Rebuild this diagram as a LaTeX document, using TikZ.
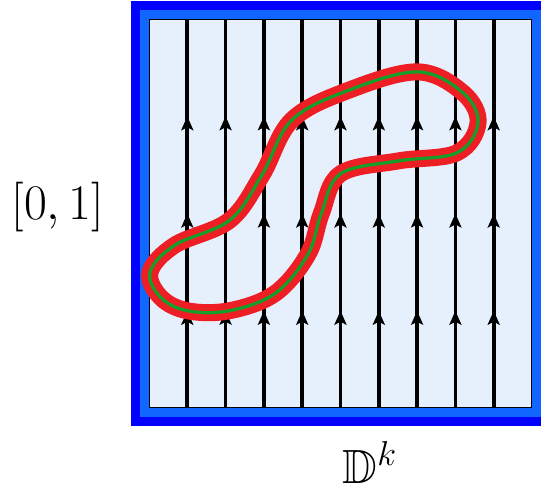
\documentclass[tikz,border=0pt]{standalone}
\usepackage{amssymb, amsmath}
\usepackage{tikz}
\usetikzlibrary{decorations.markings, arrows.meta}
\definecolor{deep}{RGB}{0, 0, 255}
\definecolor{light}{RGB}{17, 102, 255}
\definecolor{pale}{RGB}{230, 240, 252}
\definecolor{loopred}{RGB}{237, 30, 36}
\definecolor{loopgreen}{RGB}{20, 160, 40}

\begin{document}
\begin{tikzpicture}[
   x=19.15pt, y=19.45pt,
   flowline/.style={draw=black, line width=1.8, postaction={decorate},
                    decoration={markings,
                      mark=at position 0.25 with {\arrow{Stealth[length=7pt, width=6pt, inset=1.5pt]}},
                      mark=at position 0.5 with {\arrow{Stealth[length=7pt, width=6pt, inset=1.5pt]}},
                      mark=at position 0.75 with {\arrow{Stealth[length=7pt, width=6pt, inset=1.5pt]}}}},
   outerband/.style={draw=deep, line width=4.5},
   innerband/.style={draw=light, line width=4.5},
   loopout/.style={draw=loopred, line width=8.5, line join=round},
   loopin/.style={draw=loopgreen, line width=1.6, line join=round},
   axislabel/.style={font=\fontsize{24}{29}\selectfont}
  ]

  % Line Spacing
  \pgfmathsetmacro{\d}{1}

  \useasboundingbox (-3.89 * \d, -2.391 * \d) rectangle (10.235 * \d, 10.488 * \d);

  \fill[pale] (0, 0) rectangle (10 * \d, 10 * \d);

  \foreach \i in {1, ..., 9} {
    \draw[flowline] (\i * \d, 0) -- (\i * \d, 10 * \d);
  }

  \draw[black, line width=0.8] (0, 0) rectangle (10 * \d, 10 * \d);
  \draw[innerband] (-0.118 * \d, -0.118 * \d) rectangle (10.118 * \d, 10.118 * \d);
  \draw[outerband] (-0.355 * \d, -0.355 * \d) rectangle (10.355 * \d, 10.355 * \d);

  % the closed loop
  \def\looppoints{
    (0.03, 3.5) (0.68, 4.19) (2.11, 4.83) (2.95, 5.99) (3.73, 7.4) (5.22, 8.17)
    (7.02, 8.64) (8.2, 8.1) (8.59, 7.33) (8.04, 6.56) (6.5, 6.35) (5.0, 6.02)
    (4.5, 5.0) (4.15, 3.95) (3.3, 2.95) (2.1, 2.5) (1.0, 2.5) (0.3, 2.85)}
  \draw[loopout] plot[smooth cycle, tension=0.6] coordinates {\looppoints};
  \draw[loopin] plot[smooth cycle, tension=0.6] coordinates {\looppoints};

  \node[axislabel] (interval) at (-2.38 * \d, 5.17 * \d) {$[0,1]$};
  \node[axislabel] (disk) at (5.77 * \d, -1.41 * \d) {$\mathbb{D}^k$};

\end{tikzpicture}
\end{document}
